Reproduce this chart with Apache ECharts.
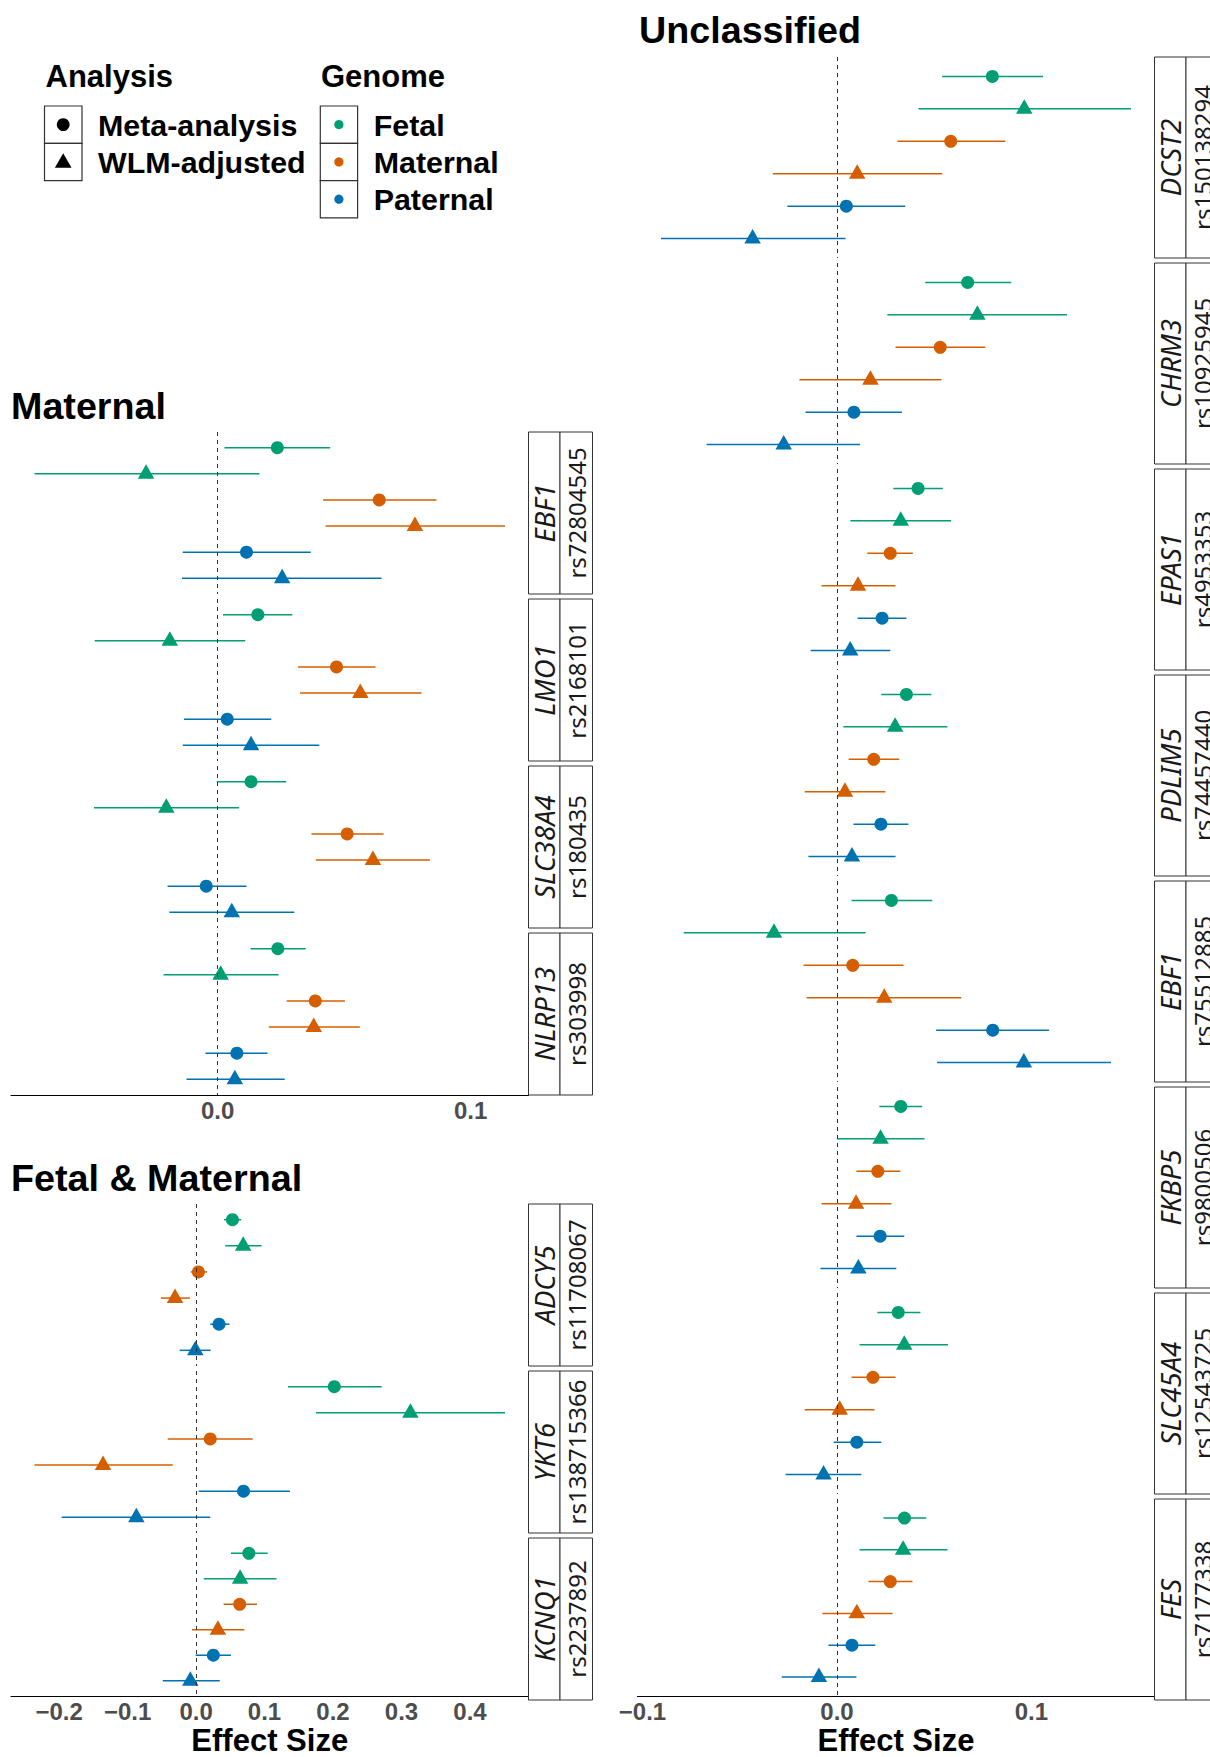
<!DOCTYPE html>
<html>
<head>
<meta charset="utf-8">
<script src="https://cdn.jsdelivr.net/npm/echarts@6/dist/echarts.min.js"></script>
<style>
  html, body { margin: 0; padding: 0; background: #fff; }
  #chart { width: 1210px; height: 1757px; }
</style>
</head>
<body>
<div id="chart"></div>
<script>
// Genomes (colour) and analyses (symbol)
const genomeNames = ['Fetal', 'Maternal', 'Paternal'];
const genomeColors = ['#009E73', '#D55E00', '#0072B2'];
const analysisNames = ['Meta-analysis', 'WLM-adjusted'];

// Row order inside each locus:
// Fetal meta, Fetal WLM, Maternal meta, Maternal WLM, Paternal meta, Paternal WLM

// ---- Maternal ----
const maternalGenes = ['EBF1', 'LMO1', 'SLC38A4', 'NLRP13'];
const maternalSnps = ['rs72804545', 'rs2168101', 'rs180435', 'rs303998'];
const maternalEst = [
  [0.0236, -0.0283, 0.0639, 0.0780, 0.0114, 0.0255],
  [0.0159, -0.0189, 0.0470, 0.0564, 0.0038, 0.0132],
  [0.0132, -0.0203, 0.0512, 0.0614, -0.0045, 0.0056],
  [0.0238, 0.0012, 0.0386, 0.0380, 0.0076, 0.0068]
];
const maternalLow = [
  [0.0027, -0.0724, 0.0417, 0.0427, -0.0138, -0.0141],
  [0.0021, -0.0486, 0.0318, 0.0326, -0.0133, -0.0138],
  [-0.0003, -0.0489, 0.0371, 0.0388, -0.0198, -0.0191],
  [0.0130, -0.0214, 0.0273, 0.0202, -0.0048, -0.0123]
];
const maternalHigh = [
  [0.0445, 0.0165, 0.0865, 0.1136, 0.0368, 0.0648],
  [0.0295, 0.0109, 0.0624, 0.0806, 0.0212, 0.0402],
  [0.0271, 0.0085, 0.0656, 0.0839, 0.0114, 0.0303],
  [0.0348, 0.0241, 0.0503, 0.0562, 0.0197, 0.0265]
];
const maternalTicks = [0, 0.1];

// ---- Fetal & Maternal ----
const fetalMaternalGenes = ['ADCY5', 'YKT6', 'KCNQ1'];
const fetalMaternalSnps = ['rs11708067', 'rs138715366', 'rs2237892'];
const fetalMaternalEst = [
  [0.0531, 0.0688, 0.0034, -0.0307, 0.0335, -0.0011],
  [0.2018, 0.3130, 0.0207, -0.1358, 0.0693, -0.0872],
  [0.0771, 0.0643, 0.0637, 0.0319, 0.0252, -0.0084]
];
const fetalMaternalLow = [
  [0.0408, 0.0425, -0.0078, -0.0514, 0.0207, -0.0240],
  [0.1342, 0.1750, -0.0414, -0.2359, 0.0039, -0.1962],
  [0.0509, 0.0112, 0.0402, -0.0061, -0.0006, -0.0486]
];
const fetalMaternalHigh = [
  [0.0660, 0.0956, 0.0162, -0.0089, 0.0486, 0.0212],
  [0.2711, 0.4511, 0.0827, -0.0341, 0.1370, 0.0207],
  [0.1045, 0.1174, 0.0889, 0.0704, 0.0509, 0.0346]
];
const fetalMaternalTicks = [-0.2, -0.1, 0, 0.1, 0.2, 0.3, 0.4];

// ---- Unclassified ----
const unclassifiedGenes = ['DCST2', 'CHRM3', 'EPAS1', 'PDLIM5', 'EBF1', 'FKBP5', 'SLC45A4', 'FES'];
const unclassifiedSnps = ['rs150138294', 'rs10925945', 'rs4953353', 'rs74457440', 'rs75512885', 'rs9800506', 'rs12543725', 'rs7177338'];
const unclassifiedEst = [
  [0.0799, 0.0963, 0.0585, 0.0104, 0.0048, -0.0434],
  [0.0672, 0.0722, 0.0531, 0.0172, 0.0087, -0.0274],
  [0.0417, 0.0328, 0.0274, 0.0108, 0.0232, 0.0068],
  [0.0357, 0.0299, 0.0189, 0.0041, 0.0226, 0.0077],
  [0.0280, -0.0324, 0.0081, 0.0243, 0.0801, 0.0961],
  [0.0328, 0.0224, 0.0210, 0.0098, 0.0222, 0.0110],
  [0.0315, 0.0346, 0.0185, 0.0014, 0.0102, -0.0069],
  [0.0347, 0.0340, 0.0274, 0.0102, 0.0077, -0.0093]
];
const unclassifiedLow = [
  [0.0541, 0.0419, 0.0311, -0.0330, -0.0255, -0.0905],
  [0.0454, 0.0259, 0.0301, -0.0193, -0.0162, -0.0670],
  [0.0290, 0.0069, 0.0156, -0.0079, 0.0106, -0.0135],
  [0.0228, 0.0033, 0.0060, -0.0166, 0.0085, -0.0147],
  [0.0075, -0.0788, -0.0172, -0.0156, 0.0510, 0.0515],
  [0.0218, 0.0000, 0.0100, -0.0079, 0.0100, -0.0085],
  [0.0208, 0.0116, 0.0075, -0.0166, -0.0017, -0.0264],
  [0.0239, 0.0116, 0.0162, -0.0075, -0.0044, -0.0284]
];
const unclassifiedHigh = [
  [0.1060, 0.1512, 0.0865, 0.0541, 0.0351, 0.0044],
  [0.0896, 0.1183, 0.0763, 0.0537, 0.0334, 0.0118],
  [0.0544, 0.0587, 0.0390, 0.0301, 0.0357, 0.0274],
  [0.0485, 0.0568, 0.0320, 0.0249, 0.0367, 0.0301],
  [0.0490, 0.0147, 0.0342, 0.0639, 0.1091, 0.1409],
  [0.0438, 0.0450, 0.0326, 0.0280, 0.0346, 0.0305],
  [0.0429, 0.0571, 0.0301, 0.0193, 0.0228, 0.0125],
  [0.0459, 0.0568, 0.0388, 0.0286, 0.0197, 0.0100]
];
const unclassifiedTicks = [-0.1, 0, 0.1];

// ---- Layout ----
const BOLD_FONT = 'Liberation Sans, Arial, sans-serif';
const STRIP_FONT = 'Noto Sans, Open Sans, sans-serif';
const STRIP_W = 31.5;

const panels = [
  { title: 'Maternal', genes: maternalGenes, snps: maternalSnps, est: maternalEst,
    low: maternalLow, high: maternalHigh, ticks: maternalTicks, axisName: '',
    layout: { left: 11, right: 528.5, top: 432, facetHeight: 162, gap: 5, titleX: 11, titleY: 406 } },
  { title: 'Fetal & Maternal', genes: fetalMaternalGenes, snps: fetalMaternalSnps, est: fetalMaternalEst,
    low: fetalMaternalLow, high: fetalMaternalHigh, ticks: fetalMaternalTicks, axisName: 'Effect Size',
    layout: { left: 11, right: 528.5, top: 1204, facetHeight: 162, gap: 5, titleX: 11, titleY: 1178 } },
  { title: 'Unclassified', genes: unclassifiedGenes, snps: unclassifiedSnps, est: unclassifiedEst,
    low: unclassifiedLow, high: unclassifiedHigh, ticks: unclassifiedTicks, axisName: 'Effect Size',
    layout: { left: 637.5, right: 1154.5, top: 57, facetHeight: 201, gap: 5, titleX: 639, titleY: 30 } }
];

function paddedRange(low, high) {
  const lo = Math.min(...low.flat());
  const hi = Math.max(...high.flat());
  const pad = (hi - lo) * 0.05;
  return [lo - pad, hi + pad];
}

function tickText(v) {
  const s = Math.abs(v) < 1e-9 ? '0.0' : v.toFixed(1);
  return s.replace('-', '\u2212');
}

const grids = [], xAxes = [], yAxes = [], series = [], graphics = [];

panels.forEach(panel => {
  const L = panel.layout;
  const [xmin, xmax] = paddedRange(panel.low, panel.high);
  const width = L.right - L.left;

  graphics.push({
    type: 'text', x: L.titleX, y: L.titleY,
    style: { text: panel.title, fontFamily: BOLD_FONT, fontWeight: 'bold', fontSize: 37.7,
             fill: '#000', align: 'left', verticalAlign: 'middle' }
  });

  panel.genes.forEach((gene, gi) => {
    const idx = grids.length;
    const top = L.top + gi * (L.facetHeight + L.gap);
    const isBottom = gi === panel.genes.length - 1;
    grids.push({ left: L.left, top: top, width: width, height: L.facetHeight, containLabel: false });

    xAxes.push({
      gridIndex: idx, type: 'value', min: xmin, max: xmax,
      axisLine: { show: isBottom, onZero: false, lineStyle: { color: '#000', width: 1.2 } },
      axisTick: { show: false },
      splitLine: { show: false },
      axisLabel: {
        show: isBottom, customValues: panel.ticks, formatter: tickText,
        fontFamily: BOLD_FONT, fontWeight: 'bold', fontSize: 24, color: '#4D4D4D', margin: 3
      },
      name: isBottom ? panel.axisName : '',
      nameLocation: 'middle', nameGap: 29,
      nameTextStyle: { fontFamily: BOLD_FONT, fontWeight: 'bold', fontSize: 31, color: '#000' }
    });
    yAxes.push({
      gridIndex: idx, type: 'value', min: 0.4, max: 6.6, inverse: true, show: false,
      splitLine: { show: false }
    });

    const est = panel.est[gi], low = panel.low[gi], high = panel.high[gi];

    // horizontal confidence intervals
    series.push({
      type: 'custom', xAxisIndex: idx, yAxisIndex: idx, silent: true, z: 2,
      encode: { x: [0, 1], y: 2 },
      data: est.map((_, r) => [low[r], high[r], r + 1, Math.floor(r / 2)]),
      renderItem: (params, api) => {
        const y = api.value(2);
        const a = api.coord([api.value(0), y]);
        const b = api.coord([api.value(1), y]);
        return {
          type: 'line',
          shape: { x1: a[0], y1: a[1], x2: b[0], y2: b[1] },
          style: { stroke: genomeColors[api.value(3)], lineWidth: 1.5 }
        };
      }
    });

    // point estimates, with the zero reference line
    series.push({
      type: 'scatter', xAxisIndex: idx, yAxisIndex: idx, silent: true, z: 3,
      data: est.map((v, r) => {
        const tri = r % 2 === 1;
        return {
          value: [v, r + 1],
          symbol: tri ? 'triangle' : 'circle',
          symbolSize: tri ? [16.5, 14.5] : 13,
          symbolOffset: tri ? [0, -2.3] : [0, 0],
          itemStyle: { color: genomeColors[Math.floor(r / 2)], opacity: 1 }
        };
      }),
      markLine: {
        silent: true, symbol: ['none', 'none'], label: { show: false },
        lineStyle: { color: '#333', width: 1, type: [4, 4] },
        emphasis: { disabled: true },
        data: [{ xAxis: 0 }]
      }
    });

    // facet strips: gene (italic) and SNP
    const sx = L.right;
    const stripStyle = { fill: '#fff', stroke: '#333', lineWidth: 1 };
    graphics.push({ type: 'rect', shape: { x: sx, y: top, width: STRIP_W, height: L.facetHeight }, style: stripStyle, z: 10 });
    graphics.push({ type: 'rect', shape: { x: sx + STRIP_W, y: top, width: STRIP_W + 1, height: L.facetHeight }, style: stripStyle, z: 10 });
    graphics.push({
      type: 'text', x: sx + STRIP_W / 2 + 0.5, y: top + L.facetHeight / 2, rotation: Math.PI / 2, z: 11,
      style: { text: gene, fontFamily: STRIP_FONT, fontStyle: 'italic', fontSize: 27.5, fill: '#1A1A1A',
               align: 'center', verticalAlign: 'middle' }
    });
    graphics.push({
      type: 'text', x: sx + STRIP_W * 1.5 + 0.5, y: top + L.facetHeight / 2, rotation: Math.PI / 2, z: 11,
      style: { text: panel.snps[gi], fontFamily: STRIP_FONT, fontSize: 24, fill: '#1A1A1A',
               align: 'center', verticalAlign: 'middle' }
    });
  });
});

// ---- Legend ----
const legendText = { fontFamily: BOLD_FONT, fontWeight: 'bold', fill: '#000', align: 'left', verticalAlign: 'middle' };
const keyStyle = { fill: '#fff', stroke: '#333', lineWidth: 1.2 };
graphics.push({ type: 'text', x: 45.5, y: 76.5, style: Object.assign({ text: 'Analysis', fontSize: 31 }, legendText) });
graphics.push({ type: 'text', x: 321, y: 76.5, style: Object.assign({ text: 'Genome', fontSize: 31 }, legendText) });
const keyTops = [106, 143.3, 180.6];
analysisNames.forEach((name, i) => {
  const ky = keyTops[i];
  graphics.push({ type: 'rect', shape: { x: 44.5, y: ky, width: 37.5, height: 37.3 }, style: keyStyle });
  const cx = 63.2, cy = ky + 18.6;
  if (i === 0) {
    graphics.push({ type: 'circle', shape: { cx: cx, cy: cy, r: 6.4 }, style: { fill: '#000' } });
  } else {
    graphics.push({ type: 'polygon', shape: { points: [[cx, cy - 8.6], [cx + 8.3, cy + 5.8], [cx - 8.3, cy + 5.8]] }, style: { fill: '#000' } });
  }
  graphics.push({ type: 'text', x: 98, y: cy, style: Object.assign({ text: name, fontSize: 30.4 }, legendText) });
});
genomeNames.forEach((name, i) => {
  const ky = keyTops[i];
  graphics.push({ type: 'rect', shape: { x: 320.3, y: ky, width: 37.3, height: 37.3 }, style: keyStyle });
  graphics.push({ type: 'circle', shape: { cx: 338.9, cy: ky + 18.6, r: 4.6 }, style: { fill: genomeColors[i] } });
  graphics.push({ type: 'text', x: 373.7, y: ky + 18.6, style: Object.assign({ text: name, fontSize: 30.4 }, legendText) });
});

const chart = echarts.init(document.getElementById('chart'), null, { renderer: 'svg', width: 1210, height: 1757 });
chart.setOption({
  animation: false,
  backgroundColor: '#fff',
  grid: grids,
  xAxis: xAxes,
  yAxis: yAxes,
  series: series,
  graphic: { elements: graphics }
});
</script>
</body>
</html>
